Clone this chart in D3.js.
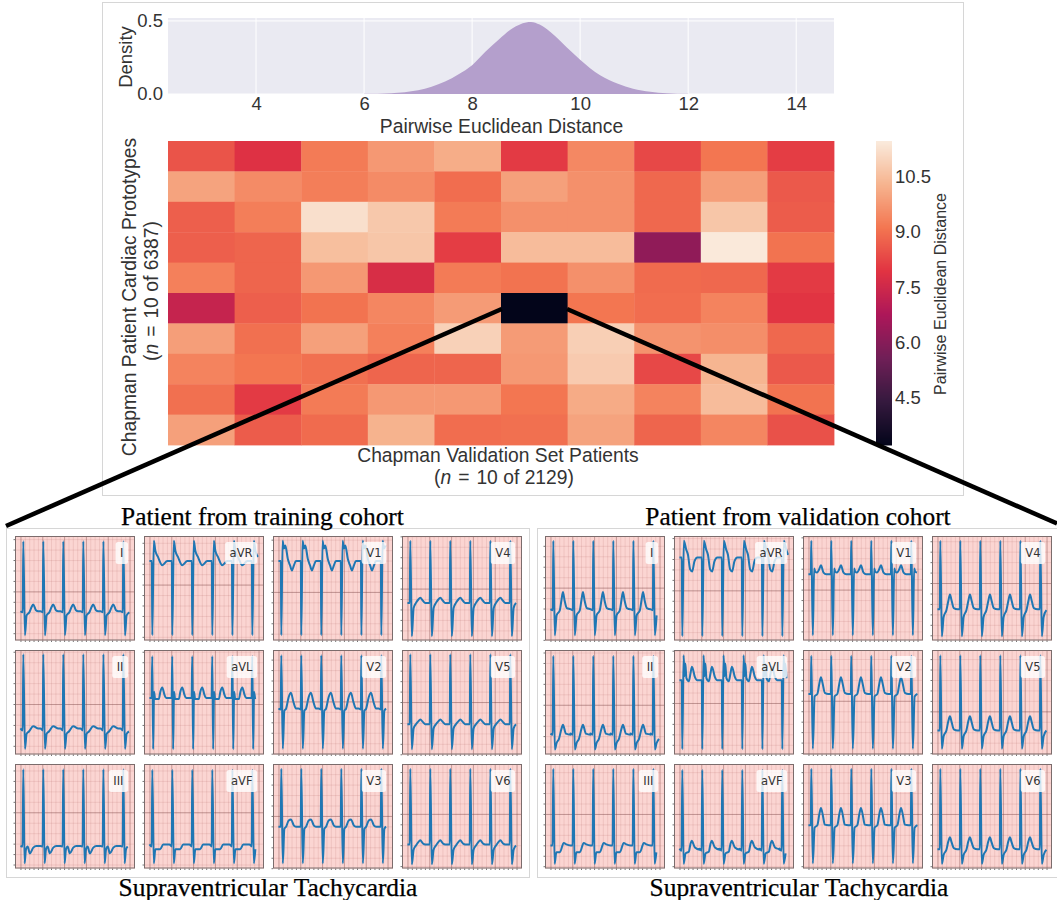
<!DOCTYPE html>
<html>
<head>
<meta charset="utf-8">
<script src="https://d3js.org/d3.v7.min.js"></script>
<style>
  body { margin: 0; background: #fff; }
  svg { display: block; }
  text { font-family: "Liberation Sans", Arial, sans-serif; fill: #333; }
  .serif { font-family: "Liberation Serif", serif; fill: #000; stroke: #000; stroke-width: .25px; }
</style>
</head>
<body>
<div id="chart"></div>
<script>
// density plot
var densityX = [6, 6.5, 6.75, 7, 7.25, 7.5, 7.75, 8, 8.25, 8.5, 8.75, 9, 9.09, 9.25, 9.45, 9.75, 10, 10.37, 10.7, 10.98, 11.3, 11.6, 12];
var densityY = [.001, .005, .012, .025, .05, .085, .135, .197, .29, .375, .45, .49, .493, .475, .424, .32, .235, .128, .07, .036, .015, .005, .001];
var densityTicks = [4, 6, 8, 10, 12, 14];

// heatmap, rows top to bottom
var heatValues = [
  [8.5, 7.85, 9.2, 9.75, 10.15, 8.05, 9.45, 8.3, 9.1, 8.1],
  [9.95, 9.5, 9.25, 9.5, 8.95, 9.9, 9.6, 8.85, 9.85, 8.6],
  [8.7, 9.25, 11.2, 10.7, 9.2, 9.6, 9.6, 8.85, 10.65, 8.65],
  [8.7, 8.8, 10.5, 10.65, 8.1, 10.45, 10.45, 6.2, 11.4, 9.05],
  [9.3, 8.8, 9.75, 7.7, 9.2, 9.05, 9.6, 8.9, 8.85, 8.05],
  [7.3, 8.7, 9.05, 9.4, 9.8, 3.23, 9.1, 8.95, 9.35, 7.95],
  [9.85, 9.0, 9.9, 9.3, 10.9, 9.8, 10.85, 9.65, 9.55, 8.85],
  [9.35, 9.1, 9.0, 8.8, 8.8, 9.75, 10.75, 8.3, 10.3, 8.6],
  [9.0, 8.05, 9.2, 9.75, 9.75, 9.1, 10.1, 9.35, 10.45, 9.05],
  [9.9, 8.65, 8.9, 10.25, 8.95, 9.0, 9.95, 8.8, 9.4, 8.45]
];
var colorTicks = [4.5, 6.0, 7.5, 9.0, 10.5];
// rocket palette
var rocketStops = ["#03051a", "#35193e", "#701f57", "#ad1759", "#e13342", "#f37651", "#f6b48f", "#faebdd"];

// ecg panels, one column after another
var leadNames = ["I", "II", "III", "aVR", "aVL", "aVF", "V1", "V2", "V3", "V4", "V5", "V6"];
var trainPeaks = [65, 523, 981, 1440, 1900, 2357];
var validPeaks = [65, 523, 981, 1440, 1900, 2357];
var trainZero = [47, 48.3, 53.8, 53.5, 48.3, 53.8, 46.5, 50.8, 50.3, 49.7, 50.2, 52.3];
var validZero = [50.6, 47.6, 52.2, 48, 49.3, 52.2, 48.7, 51.4, 52.2, 55, 41.3, 52.2];

// one beat for every lead: [samples from the spike, % of panel height]
var trainBeats = [
  [[-65, 28], [-12, 27], [0, 95], [38, 5], [76, 24], [140, 27], [190, 32], [229, 34.5], [290, 29], [343, 28], [393, 28]],
  [[-65, 25], [-12, 23], [0, 96], [38, 5.4], [76, 19.7], [130, 22], [229, 27], [343, 25], [393, 25]],
  [[-65, 21.5], [-15, 21], [0, 95], [30, 5], [60, 18], [100, 21], [150, 14.5], [229, 20], [300, 21.5], [393, 21.5]],
  [[-65, 76], [-10, 76], [0, 5], [35, 95.5], [70, 86], [130, 80], [229, 72], [343, 76], [393, 76]],
  [[-65, 54], [-15, 54], [0, 94], [20, 5], [40, 60], [65, 53], [150, 53], [185, 60], [229, 64], [280, 57], [320, 54], [393, 54]],
  [[-65, 23], [-12, 21], [0, 94.5], [35, 5], [70, 18.5], [180, 18.5], [250, 23], [393, 23]],
  [[-65, 76], [-10, 76], [0, 5], [30, 95.5], [61, 88], [92, 91], [150, 78], [200, 72], [244, 67], [290, 72], [336, 76], [393, 76]],
  [[-65, 44], [-12, 43], [0, 95], [35, 5.4], [70, 42], [110, 44], [170, 55], [221, 59], [280, 50], [336, 44], [393, 44]],
  [[-65, 40], [-12, 40], [0, 95.5], [35, 5], [70, 38], [110, 40], [170, 46], [221, 47], [290, 41], [336, 40], [393, 40]],
  [[-65, 36], [-12, 36], [0, 95.5], [35, 4], [76, 31], [130, 36], [180, 39], [229, 41], [290, 38], [343, 36], [393, 36]],
  [[-65, 29], [-12, 29], [0, 96], [35, 5], [76, 25], [130, 29], [180, 31.5], [229, 33.5], [290, 31], [343, 29], [393, 29]],
  [[-65, 23], [-12, 23], [0, 95.5], [35, 4], [76, 18], [130, 22], [180, 25], [229, 27], [290, 24], [343, 23], [393, 23]]
];
var validBeats = [
  [[-65, 30], [-10, 29], [0, 95.5], [35, 5], [76, 24], [150, 29], [185, 38], [221, 46.5], [260, 38], [310, 31], [393, 30]],
  [[-65, 20], [-12, 19], [0, 94.5], [35, 4.8], [76, 11], [130, 15], [190, 25], [221, 28.5], [290, 20], [393, 19]],
  [[-65, 22], [-15, 22], [0, 95.5], [30, 4.5], [70, 15.5], [150, 15.5], [240, 24.5], [300, 23], [393, 22]],
  [[-65, 79.5], [-10, 79.5], [0, 4], [35, 95.5], [90, 87], [130, 82], [180, 68], [225, 66], [280, 76], [345, 79.5], [393, 79.5]],
  [[-65, 71], [-10, 71], [0, 5], [30, 95], [50, 75], [70, 87], [95, 73], [150, 70], [190, 78], [221, 84], [290, 74], [343, 71], [393, 71]],
  [[-65, 19], [-15, 17], [0, 94.5], [30, 4.5], [76, 14.5], [150, 16], [185, 23], [215, 26.5], [290, 20], [393, 18]],
  [[-65, 63.5], [-10, 63.5], [0, 95.5], [35, 5], [65, 69], [90, 66], [130, 65], [180, 68], [221, 72], [280, 65], [343, 63.5], [393, 63.5]],
  [[-65, 58], [-10, 58], [0, 94.5], [35, 5.4], [76, 55.5], [140, 58], [185, 68], [221, 74], [260, 68], [310, 59], [393, 58]],
  [[-65, 41.5], [-10, 41.5], [0, 95.5], [35, 5], [76, 39], [140, 41.5], [185, 52], [221, 58], [260, 52], [310, 42], [393, 41.5]],
  [[-65, 30], [-10, 30], [0, 95.5], [35, 4], [76, 22.5], [140, 29], [185, 38], [221, 44], [260, 38], [310, 31], [393, 30]],
  [[-65, 23], [-10, 23], [0, 95], [35, 5.4], [76, 17.5], [140, 23], [185, 32], [221, 36.5], [260, 31], [310, 24], [393, 23]],
  [[-65, 18.5], [-10, 18.5], [0, 95.5], [35, 4.5], [76, 13], [140, 18], [185, 26], [221, 30], [260, 25], [310, 19.5], [393, 18.5]]
];

function makeChart() {
    var svg = d3.select("#chart")
        .append("svg")
        .attr("width", 1057)
        .attr("height", 900);

    //frames round the three parts of the figure
    var frames = [[102.5, 2.5, 861, 493], [6.5, 528.5, 523, 349], [537.5, 528.5, 525, 349]];
    svg.selectAll("rect.frame")
        .data(frames)
        .enter()
        .append("rect")
        .attr("class", "frame")
        .attr("x", d => d[0])
        .attr("y", d => d[1])
        .attr("width", d => d[2])
        .attr("height", d => d[3])
        .attr("fill", "none")
        .attr("stroke", "#d6d6d6");

    drawDensity(svg);
    drawHeatmap(svg);

    drawPanels(svg, 15, trainPeaks, trainZero, trainBeats);
    drawPanels(svg, 545, validPeaks, validZero, validBeats);

    //titles of the two patients
    var titles = [
        ["Patient from training cohort", 262.5, 525],
        ["Patient from validation cohort", 798, 525],
        ["Supraventricular Tachycardia", 268, 896],
        ["Supraventricular Tachycardia", 799, 896]
    ];
    svg.selectAll("text.serif")
        .data(titles)
        .enter()
        .append("text")
        .attr("class", "serif")
        .attr("x", d => d[1])
        .attr("y", d => d[2])
        .attr("text-anchor", "middle")
        .attr("font-size", "25.4px")
        .text(d => d[0]);

    //black lines from the dark cell out to the two panels
    var zoomLines = [[501.7, 309, 6, 526], [567, 309, 1057, 523.5]];
    svg.selectAll("line.zoom")
        .data(zoomLines)
        .enter()
        .append("line")
        .attr("class", "zoom")
        .attr("x1", d => d[0])
        .attr("y1", d => d[1])
        .attr("x2", d => d[2])
        .attr("y2", d => d[3])
        .attr("stroke", "#000")
        .attr("stroke-width", 4.6);
}

function drawDensity(svg) {
    var margin = {top: 18, left: 168};
    var width = 666;
    var height = 76;

    var chart = svg.append("g")
        .attr("transform", `translate(${margin.left}, ${margin.top})`);

    var x = d3.scaleLinear().domain([2.37, 14.7]).range([0, width]);
    var y = d3.scaleLinear().domain([0, 0.52]).range([height, 0]);

    chart.append("rect")
        .attr("width", width)
        .attr("height", height)
        .attr("fill", "#eaeaf2");

    //white grid
    chart.selectAll("line.gx")
        .data(densityTicks)
        .enter()
        .append("line")
        .attr("class", "gx")
        .attr("x1", d => x(d))
        .attr("x2", d => x(d))
        .attr("y2", height)
        .attr("stroke", "#fff");
    chart.selectAll("line.gy")
        .data([0, 0.5])
        .enter()
        .append("line")
        .attr("class", "gy")
        .attr("y1", d => y(d))
        .attr("y2", d => y(d))
        .attr("x2", width)
        .attr("stroke", "#fff");

    var area = d3.area()
        .x((d, i) => x(densityX[i]))
        .y0(y(0))
        .y1(d => y(d))
        .curve(d3.curveMonotoneX);
    chart.append("path")
        .attr("d", area(densityY))
        .attr("fill", "#b49fcc");

    var xAxis = chart.append("g")
        .attr("transform", `translate(0, ${height})`)
        .call(d3.axisBottom(x).tickValues(densityTicks).tickSize(0).tickPadding(3));
    var yAxis = chart.append("g")
        .call(d3.axisLeft(y).tickValues([0, 0.5]).tickFormat(d3.format(".1f")).tickSize(0).tickPadding(5));
    [xAxis, yAxis].forEach(function(a) {
        a.select(".domain").remove();
        a.selectAll("text").attr("font-size", "18.5px").attr("font-family", null).attr("fill", "#333");
    });

    chart.append("text")
        .attr("transform", "rotate(-90)")
        .attr("x", -39)
        .attr("y", -36)
        .attr("text-anchor", "middle")
        .attr("font-size", "18.5px")
        .text("Density");

    chart.append("text")
        .attr("x", 333.5)
        .attr("y", 114.5)
        .attr("text-anchor", "middle")
        .attr("font-size", "19.3px")
        .text("Pairwise Euclidean Distance");
}

function drawHeatmap(svg) {
    var margin = {top: 141, left: 168};
    var width = 666;
    var height = 304;

    var chart = svg.append("g")
        .attr("transform", `translate(${margin.left}, ${margin.top})`);

    var x = d3.scaleBand().domain(d3.range(10)).range([0, width]);
    var y = d3.scaleBand().domain(d3.range(10)).range([0, height]);

    //colour scale, domain taken from the colour bar ticks
    var vMin = 3.23;
    var vMax = 11.45;
    var color = d3.scaleLinear()
        .domain(rocketStops.map((c, i) => vMin + (vMax - vMin) * i / 7))
        .range(rocketStops);

    var rows = chart.selectAll("g.row")
        .data(heatValues)
        .enter()
        .append("g")
        .attr("class", "row")
        .attr("transform", (d, i) => `translate(0, ${y(i)})`);
    rows.selectAll("rect")
        .data(d => d)
        .enter()
        .append("rect")
        .attr("x", (d, i) => x(i))
        .attr("width", x.bandwidth() + 0.4)
        .attr("height", y.bandwidth() + 0.4)
        .attr("fill", d => color(d));

    //axis captions
    chart.append("text")
        .attr("transform", "rotate(-90)")
        .attr("x", -156)
        .attr("y", -32)
        .attr("text-anchor", "middle")
        .attr("font-size", "19.3px")
        .text("Chapman Patient Cardiac Prototypes");
    var yCaption2 = chart.append("text")
        .attr("transform", "rotate(-90)")
        .attr("x", -150)
        .attr("y", -10)
        .attr("text-anchor", "middle")
        .attr("font-size", "19.3px");
    yCaption2.append("tspan").text("(");
    yCaption2.append("tspan").attr("font-style", "italic").text("n");
    yCaption2.append("tspan").text(" \u200A=\u200A 10 of 6387)");

    chart.append("text")
        .attr("x", 330)
        .attr("y", 321)
        .attr("text-anchor", "middle")
        .attr("font-size", "19.3px")
        .text("Chapman Validation Set Patients");
    var xCaption2 = chart.append("text")
        .attr("x", 336)
        .attr("y", 343)
        .attr("text-anchor", "middle")
        .attr("font-size", "19.3px");
    xCaption2.append("tspan").text("(");
    xCaption2.append("tspan").attr("font-style", "italic").text("n");
    xCaption2.append("tspan").text(" \u200A=\u200A 10 of 2129)");

    //colour bar
    var bar = svg.append("g").attr("transform", "translate(876, 141)");
    var barScale = d3.scaleLinear().domain([vMin, vMax]).range([height, 0]);
    bar.selectAll("rect")
        .data(d3.range(height))
        .enter()
        .append("rect")
        .attr("y", d => d)
        .attr("width", 16)
        .attr("height", 1.5)
        .attr("fill", d => color(barScale.invert(d + 0.5)));
    var barAxis = bar.append("g")
        .attr("transform", "translate(16, 0)")
        .call(d3.axisRight(barScale).tickValues(colorTicks).tickFormat(d3.format(".1f")).tickSize(0).tickPadding(3));
    barAxis.select(".domain").remove();
    barAxis.selectAll("text").attr("font-size", "18.5px").attr("font-family", null).attr("fill", "#333");

    bar.append("text")
        .attr("transform", "rotate(-90)")
        .attr("x", -153)
        .attr("y", 70)
        .attr("text-anchor", "middle")
        .attr("font-size", "16px")
        .text("Pairwise Euclidean Distance");
}

function drawPanels(svg, left, peaks, zero, beats) {
    var w = 120;
    var h = 104.5;
    var pitch = 129;
    var rowY = [536, 650, 764];

    var x = d3.scaleLinear().domain([-125, 2625]).range([0, w]);
    var y = d3.scaleLinear().domain([0, 100]).range([h, 0]);
    var line = d3.line().x(d => x(d[0])).y(d => y(d[1])).curve(d3.curveMonotoneX);

    leadNames.forEach(function(name, i) {
        var panel = svg.append("g")
            .attr("transform", `translate(${left + Math.floor(i / 3) * pitch}, ${rowY[i % 3]})`);

        panel.append("rect")
            .attr("width", w)
            .attr("height", h)
            .attr("fill", "#fbd5d2");

        //vertical grid, minor every 100 samples and major every 500
        var minorX = d3.range(0, 2600, 100);
        panel.append("g")
            .call(d3.axisBottom(x).tickValues(minorX).tickSize(h).tickFormat(""))
            .call(g => g.select(".domain").remove())
            .selectAll("line").attr("stroke", "#a04040").attr("stroke-opacity", 0.12);
        panel.append("g")
            .call(d3.axisBottom(x).tickValues(d3.range(0, 2600, 500)).tickSize(h).tickFormat(""))
            .call(g => g.select(".domain").remove())
            .selectAll("line").attr("stroke", "#6b3b3b").attr("stroke-opacity", 0.3);

        //horizontal grid counted from the lead's zero line
        var minorY = d3.range(zero[i] % 10, 100, 10);
        panel.append("g")
            .call(d3.axisLeft(y).tickValues(minorY).tickSize(-w).tickFormat(""))
            .call(g => g.select(".domain").remove())
            .selectAll("line").attr("stroke", "#a04040").attr("stroke-opacity", 0.12);
        panel.append("g")
            .call(d3.axisLeft(y).tickValues([zero[i]]).tickSize(-w).tickFormat(""))
            .call(g => g.select(".domain").remove())
            .selectAll("line").attr("stroke", "#6b3b3b").attr("stroke-opacity", 0.35);

        //small outside ticks
        panel.append("g")
            .attr("transform", `translate(0, ${h})`)
            .call(d3.axisBottom(x).tickValues(minorX).tickSize(1.5).tickFormat(""))
            .call(g => g.select(".domain").remove())
            .selectAll("line").attr("stroke", "#777");
        panel.append("g")
            .call(d3.axisLeft(y).tickValues(minorY).tickSize(1.5).tickFormat(""))
            .call(g => g.select(".domain").remove())
            .selectAll("line").attr("stroke", "#777");

        //trace, same beat repeated at each spike and cut at the last sample
        var points = [];
        peaks.forEach(function(p) {
            beats[i].forEach(function(b) {
                if (p + b[0] >= 0 && p + b[0] <= 2500) points.push([p + b[0], b[1]]);
            });
        });
        panel.append("path")
            .attr("d", line(points))
            .attr("fill", "none")
            .attr("stroke", "#1f77b4")
            .attr("stroke-width", 2)
            .attr("stroke-linejoin", "round");

        panel.append("rect")
            .attr("x", 0.5)
            .attr("y", 0.5)
            .attr("width", w - 1)
            .attr("height", h - 1)
            .attr("fill", "none")
            .attr("stroke", "#7b6c6c");

        //legend box with lead name
        var box = panel.append("rect")
            .attr("y", 6)
            .attr("height", 22)
            .attr("rx", 2.5)
            .attr("fill", "#fff")
            .attr("fill-opacity", 0.8);
        var label = panel.append("text")
            .attr("y", 21)
            .attr("font-size", "11.5px")
            .attr("fill", "#222")
            .style("font-family", "'DejaVu Sans', sans-serif")
            .attr("text-anchor", "middle")
            .text(name);
        var boxW = label.node().getComputedTextLength() + 9;
        label.attr("x", w - 7 - boxW / 2);
        box.attr("x", w - 7 - boxW).attr("width", boxW);
    });
}

makeChart();
</script>
</body>
</html>
